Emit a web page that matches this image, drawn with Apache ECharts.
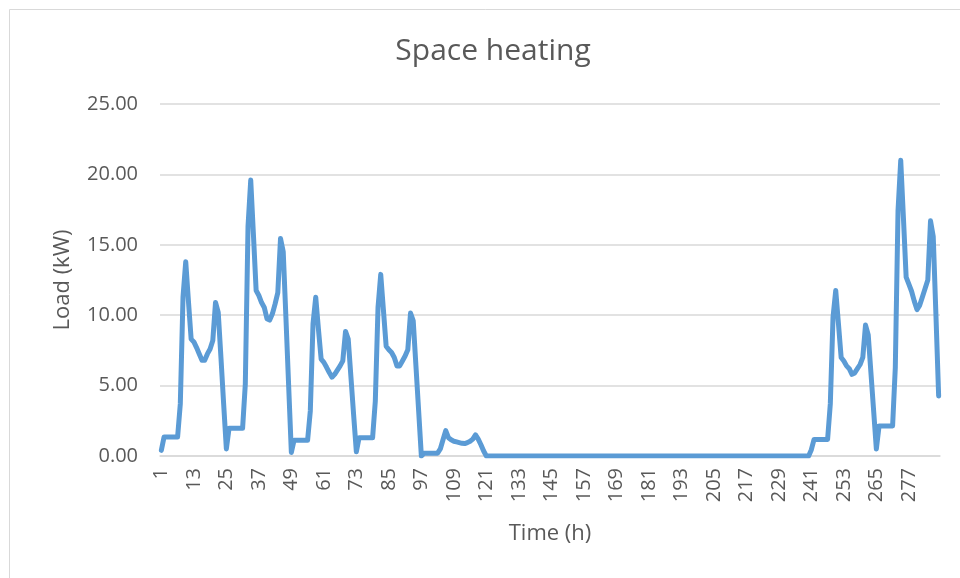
<!DOCTYPE html>
<html>
<head>
<meta charset="utf-8">
<title>Space heating</title>
<script src="https://cdn.jsdelivr.net/npm/echarts@6/dist/echarts.min.js"></script>
<style>
  html, body { margin: 0; padding: 0; background: #ffffff; }
  #chart { width: 960px; height: 578px; }
</style>
</head>
<body>
<div id="chart"></div>
<script>
// Hourly space-heating load (kW), 12 days x 24 hours
const day01 = [0.4, 1.35, 1.35, 1.35, 1.35, 1.35, 1.35, 3.7, 11.3, 13.8, 11.0, 8.3, 8.1, 7.7, 7.25, 6.8, 6.8, 7.25, 7.6, 8.2, 10.9, 10.2, 7.0, 3.7];
const day02 = [0.5, 1.97, 1.97, 1.97, 1.97, 1.97, 1.97, 5.1, 16.3, 19.6, 15.7, 11.75, 11.4, 10.9, 10.55, 9.75, 9.65, 10.1, 10.8, 11.6, 15.45, 14.5, 9.8, 5.0];
const day03 = [0.25, 1.12, 1.12, 1.12, 1.12, 1.12, 1.12, 3.2, 9.4, 11.27, 9.0, 6.88, 6.65, 6.3, 5.93, 5.6, 5.8, 6.1, 6.4, 6.76, 8.85, 8.3, 5.6, 2.9];
const day04 = [0.3, 1.3, 1.3, 1.3, 1.3, 1.3, 1.3, 3.9, 10.55, 12.9, 10.35, 7.8, 7.55, 7.35, 7.0, 6.4, 6.4, 6.75, 7.1, 7.55, 10.15, 9.6, 6.4, 3.2];
const day05 = [0, 0.2, 0.2, 0.2, 0.2, 0.2, 0.2, 0.5, 1.15, 1.8, 1.3, 1.15, 1.05, 1.0, 0.95, 0.9, 0.88, 0.95, 1.05, 1.2, 1.5, 1.2, 0.8, 0.35];
const day06 = [0, 0, 0, 0, 0, 0, 0, 0, 0, 0, 0, 0, 0, 0, 0, 0, 0, 0, 0, 0, 0, 0, 0, 0];
const day07 = [0, 0, 0, 0, 0, 0, 0, 0, 0, 0, 0, 0, 0, 0, 0, 0, 0, 0, 0, 0, 0, 0, 0, 0];
const day08 = [0, 0, 0, 0, 0, 0, 0, 0, 0, 0, 0, 0, 0, 0, 0, 0, 0, 0, 0, 0, 0, 0, 0, 0];
const day09 = [0, 0, 0, 0, 0, 0, 0, 0, 0, 0, 0, 0, 0, 0, 0, 0, 0, 0, 0, 0, 0, 0, 0, 0];
const day10 = [0, 0, 0, 0, 0, 0, 0, 0, 0, 0, 0, 0, 0, 0, 0, 0, 0, 0, 0, 0, 0, 0, 0, 0];
const day11 = [0.45, 1.18, 1.18, 1.18, 1.18, 1.18, 1.18, 3.7, 9.85, 11.75, 9.4, 7.0, 6.75, 6.4, 6.2, 5.8, 5.9, 6.2, 6.5, 7.0, 9.3, 8.6, 5.9, 3.2];
const day12 = [0.5, 2.13, 2.13, 2.13, 2.13, 2.13, 2.13, 6.3, 17.4, 21.0, 16.9, 12.7, 12.2, 11.7, 11.0, 10.4, 10.7, 11.3, 11.9, 12.5, 16.7, 15.6, 10.0, 4.27];

const loadKW = [].concat(day01, day02, day03, day04, day05, day06,
                         day07, day08, day09, day10, day11, day12);

// Hour numbers shown on the category axis (1 .. 288)
const hourLabels = loadKW.map((_, i) => String(i + 1));

// Value-axis ticks
const yTicks = [0, 5, 10, 15, 20, 25];

const textColor = '#595959';
const gridColor = '#d9d9d9';
const fontFamily = '"Open Sans", "Noto Sans", sans-serif';

const chart = echarts.init(document.getElementById('chart'), null, { renderer: 'canvas' });

chart.setOption({
  animation: false,
  backgroundColor: '#ffffff',
  title: {
    text: 'Space heating',
    left: 488,
    top: 31,
    textAlign: 'center',
    textStyle: { color: textColor, fontSize: 30, fontWeight: 'normal', fontFamily: fontFamily }
  },
  graphic: [{
    type: 'rect',
    shape: { x: 9.5, y: 9.5, width: 2000, height: 2000 },
    style: { fill: 'none', stroke: gridColor, lineWidth: 1 },
    silent: true
  }],
  grid: { left: 160, right: 20, top: 104, bottom: 122, containLabel: false },
  xAxis: {
    type: 'category',
    data: hourLabels,
    boundaryGap: true,
    name: 'Time (h)',
    nameLocation: 'middle',
    nameGap: 67,
    nameTextStyle: { color: textColor, fontSize: 22, fontFamily: fontFamily },
    axisLine: { show: true, lineStyle: { color: gridColor, width: 1.5 } },
    axisTick: { show: false },
    axisLabel: {
      interval: 11,
      rotate: 90,
      margin: 12,
      color: textColor,
      fontSize: 20,
      fontFamily: fontFamily
    },
    splitLine: { show: false }
  },
  yAxis: {
    type: 'value',
    min: yTicks[0],
    max: yTicks[yTicks.length - 1],
    interval: yTicks[1] - yTicks[0],
    name: 'Load (kW)',
    nameLocation: 'middle',
    nameGap: 86,
    nameTextStyle: { color: textColor, fontSize: 22, fontFamily: fontFamily },
    axisLine: { show: false },
    axisTick: { show: false },
    axisLabel: {
      color: textColor,
      fontSize: 20,
      fontFamily: fontFamily,
      margin: 22,
      formatter: v => v.toFixed(2)
    },
    splitLine: { show: true, lineStyle: { color: gridColor, width: 1.5 } }
  },
  series: [{
    name: 'Space heating',
    type: 'line',
    data: loadKW,
    showSymbol: false,
    smooth: false,
    lineStyle: { color: '#5B9BD5', width: 5, cap: 'round', join: 'round' },
    itemStyle: { color: '#5B9BD5' }
  }]
});
</script>
</body>
</html>
